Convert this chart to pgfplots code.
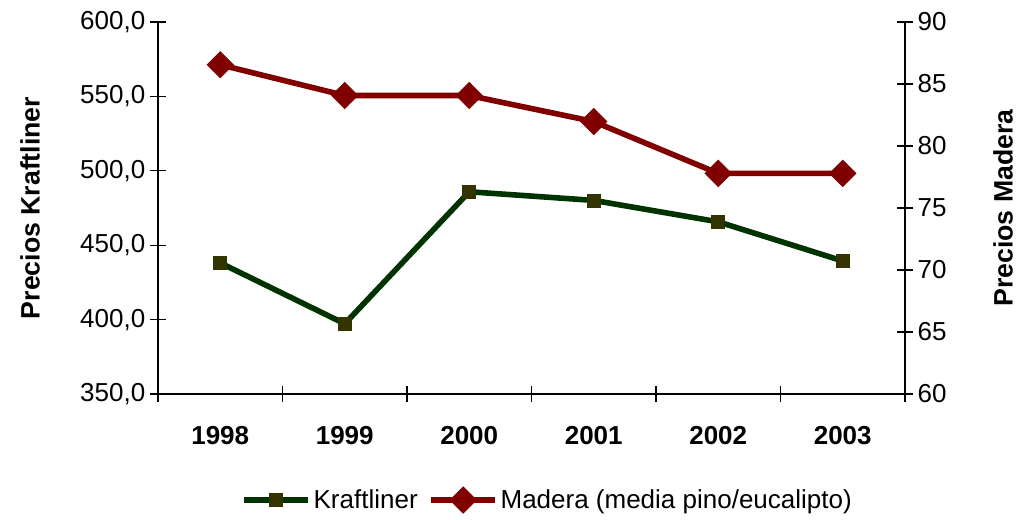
\documentclass[border=0pt]{standalone}
\usepackage{fontspec}
\setmainfont{Liberation Sans}
\usepackage{pgfplots}
\pgfplotsset{compat=1.18}
\definecolor{kgreen}{HTML}{003300}
\definecolor{kmark}{HTML}{333300}
\definecolor{mred}{HTML}{800000}
\begin{document}
\begin{tikzpicture}
\useasboundingbox (-118.5pt,-94.5pt) rectangle (645pt,295.5pt);
\pgfplotsset{
  every axis/.append style={
    scale only axis, width=560.25pt, height=279pt,
    xmin=-0.5, xmax=5.5,
    tick align=center, major tick length=12pt,
    axis line style={-, black, line width=0.8pt},
    every tick/.style={black, line width=0.8pt},
    font=\fontsize{19.5}{23}\selectfont,
    /pgf/number format/assume math mode=true,
  },
  leg/.style={legend image code/.code={\draw[mark repeat=2,mark phase=2,##1] plot coordinates {(0pt,0pt) (24pt,0pt) (48pt,0pt)};}},
}
\begin{axis}[
  axis x line*=bottom, axis y line*=left,
  ymin=350, ymax=600, ytick={350,400,...,600},
  yticklabel style={/pgf/number format/.cd, fixed, fixed zerofill, precision=1, use comma},
  xtick={-0.5,0.5,...,5.5},
  x tick label as interval,
  xticklabels={1998,1999,2000,2001,2002,2003},
  xticklabel style={font=\fontsize{19.5}{23}\selectfont\bfseries, yshift=-15pt},
  ylabel={Precios Kraftliner},
  every axis y label/.style={at={(axis description cs:0,0.5)}, xshift=-96pt, rotate=90, anchor=center, font=\fontsize{20}{24}\selectfont\bfseries},
]
\addplot[kgreen, line width=4.2pt, mark=square*, mark size=4.9pt, mark options={fill=kmark, draw=kmark, line width=0.5pt}] coordinates {
(0,438.1) (1,397.2) (2,485.9) (3,480.1) (4,465.7) (5,439.4)};
\end{axis}
\begin{axis}[
  axis y line*=right, axis x line=none,
  ymin=60, ymax=90, ytick={60,65,...,90},
  ylabel={Precios Madera},
  every axis y label/.style={at={(axis description cs:1,0.5)}, xshift=73.5pt, rotate=90, anchor=center, font=\fontsize{20}{24}\selectfont\bfseries},
  legend style={draw=none, at={(axis description cs:0.522,-0.285)}, anchor=center, legend columns=2, font=\fontsize{19.5}{23}\selectfont, /tikz/every even column/.append style={column sep=6pt}},
  leg,
]
\addlegendimage{kgreen, line width=4.2pt, mark=square*, mark size=4.9pt, mark options={fill=kmark, draw=kmark, line width=0.5pt}}
\addlegendentry{Kraftliner}
\addplot[mred, line width=4.2pt, mark=square*, mark size=7pt, mark options={rotate=45, fill=mred, draw=mred, line width=0.5pt}] coordinates {
(0,86.55) (1,84.07) (2,84.07) (3,81.97) (4,77.79) (5,77.79)};
\addlegendentry{Madera (media pino/eucalipto)}
\end{axis}
\end{tikzpicture}
\end{document}
